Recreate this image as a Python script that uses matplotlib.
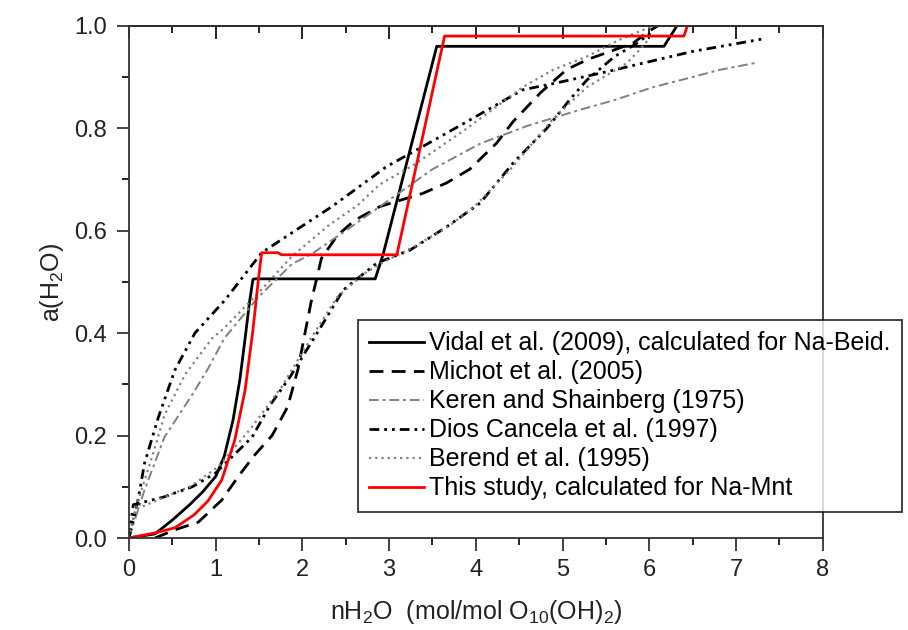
import matplotlib.pyplot as plt
from matplotlib.ticker import MultipleLocator

plt.rcParams['font.family'] = 'Liberation Sans'
plt.rcParams['mathtext.fontset'] = 'custom'
plt.rcParams['mathtext.rm'] = 'Liberation Sans'
plt.rcParams['mathtext.it'] = 'Liberation Sans:italic'

# Values: water content n vs water activity a
vidal_n = [0, 0.3, 0.5, 0.7, 0.85, 1.0, 1.1, 1.2, 1.28, 1.34, 1.39, 1.43, 1.45, 2.84, 2.93, 3.55, 6.17, 6.32]
vidal_a = [0, 0.008, 0.035, 0.065, 0.09, 0.12, 0.16, 0.23, 0.31, 0.39, 0.46, 0.505, 0.506, 0.506, 0.553, 0.96, 0.96, 1.0]

michot_n = [0.3, 0.53, 0.8, 1.07, 1.26, 1.45, 1.65, 1.83, 1.95, 2.03, 2.1, 2.22, 2.4, 2.6, 2.89, 3.39, 3.66,
            3.93, 4.24, 4.43, 4.75, 5.05, 5.3, 5.55, 5.82, 6.0, 6.1]
michot_a = [0, 0.016, 0.031, 0.074, 0.12, 0.162, 0.2, 0.256, 0.33, 0.40, 0.46, 0.546, 0.59, 0.62, 0.647, 0.673,
            0.693, 0.72, 0.771, 0.813, 0.87, 0.915, 0.935, 0.95, 0.967, 0.99, 1.0]

keren_n = [0, 0.18, 0.41, 0.73, 0.91, 1.1, 1.49, 1.88, 2.11, 2.5, 3.0, 3.5, 4.05, 4.6, 5.2, 5.6, 6.04, 6.5, 6.81, 7.24]
keren_a = [0, 0.094, 0.197, 0.28, 0.33, 0.39, 0.47, 0.535, 0.555, 0.6, 0.66, 0.72, 0.77, 0.805, 0.836, 0.855,
           0.88, 0.9, 0.914, 0.928]

dios_up_n = [0, 0.1, 0.18, 0.34, 0.53, 0.76, 1.11, 1.53, 1.88, 2.34, 2.97, 3.5, 3.93, 4.54, 4.97, 5.5, 6.0, 6.5, 7.33]
dios_up_a = [0, 0.07, 0.146, 0.236, 0.328, 0.40, 0.465, 0.557, 0.596, 0.647, 0.725, 0.775, 0.816, 0.875, 0.89,
             0.91, 0.93, 0.95, 0.975]
dios_lo_n = [0, 0.05, 0.4, 0.73, 1.0, 1.42, 1.63, 1.86, 2.17, 2.47, 2.86, 3.24, 3.66, 4.05, 4.43, 4.82, 5.08,
             5.28, 5.6, 5.85, 6.05]
dios_lo_a = [0, 0.065, 0.08, 0.10, 0.127, 0.197, 0.26, 0.315, 0.40, 0.484, 0.537, 0.562, 0.607, 0.654, 0.732,
             0.80, 0.855, 0.894, 0.94, 0.965, 0.99]

berend_up_n = [0, 0.1, 0.27, 0.41, 0.65, 0.96, 1.1, 1.49, 1.88, 2.3, 2.64, 2.89, 3.3, 3.9, 4.54, 4.89, 5.28,
               5.66, 5.9, 6.05]
berend_up_a = [0, 0.07, 0.16, 0.24, 0.32, 0.39, 0.41, 0.478, 0.55, 0.61, 0.65, 0.69, 0.73, 0.80, 0.88, 0.914,
               0.94, 0.973, 0.99, 1.0]
berend_lo_n = [0, 0.07, 0.41, 0.7, 1.03, 1.42, 1.76, 2.11, 2.4, 2.7, 2.95, 3.3, 3.7, 4.0, 4.4, 4.9, 5.28, 5.74,
               5.9, 6.0]
berend_lo_a = [0, 0.055, 0.08, 0.1, 0.139, 0.217, 0.295, 0.393, 0.47, 0.515, 0.54, 0.57, 0.61, 0.65, 0.72, 0.82,
               0.88, 0.927, 0.955, 0.975]

study_n = [0, 0.3, 0.53, 0.75, 0.91, 1.0, 1.07, 1.22, 1.34, 1.43, 1.49, 1.53, 1.72, 1.76, 3.09, 3.64, 6.40, 6.44]
study_a = [0, 0.01, 0.02, 0.045, 0.072, 0.095, 0.113, 0.191, 0.289, 0.406, 0.5, 0.557, 0.557, 0.553, 0.553,
           0.98, 0.98, 1.0]

labels = ['Vidal et al. (2009), calculated for Na-Beid.', 'Michot et al. (2005)',
          'Keren and Shainberg (1975)', 'Dios Cancela et al. (1997)', 'Berend et al. (1995)',
          'This study, calculated for Na-Mnt']

fig = plt.figure(figsize=(9.08, 6.3), dpi=100)
ax = fig.add_axes([0.142, 0.146, 0.764, 0.813])

gray = '#808080'
ax.plot(vidal_n, vidal_a, color='black', lw=2, label=labels[0])
ax.plot(michot_n, michot_a, color='black', lw=2, ls=(0, (5, 3)), label=labels[1])
ax.plot(keren_n, keren_a, color=gray, lw=1.4, ls=(0, (5, 2, 1.5, 2)), label=labels[2])
ax.plot(dios_up_n, dios_up_a, color='black', lw=2, ls=(0, (3.5, 1.8, 1, 1.8, 1, 1.8)), label=labels[3])
ax.plot(dios_lo_n, dios_lo_a, color='black', lw=2, ls=(0, (3.5, 1.8, 1, 1.8, 1, 1.8)))
ax.plot(berend_up_n, berend_up_a, color=gray, lw=1.6, ls=(0, (1, 1.8)), label=labels[4])
ax.plot(berend_lo_n, berend_lo_a, color=gray, lw=1.6, ls=(0, (1, 1.8)))
ax.plot(study_n, study_a, color='red', lw=2, label=labels[5])

ax.set_xlim(0, 8)
ax.set_ylim(0, 1.0)
ax.xaxis.set_major_locator(MultipleLocator(1))
ax.xaxis.set_minor_locator(MultipleLocator(0.5))
ax.yaxis.set_major_locator(MultipleLocator(0.2))
ax.yaxis.set_minor_locator(MultipleLocator(0.1))
ax.yaxis.set_major_formatter(plt.FormatStrFormatter('%.1f'))
ax.tick_params(which='major', direction='out', length=9, width=1.2, labelsize=17, colors='#222222')
ax.tick_params(which='minor', direction='out', length=5, width=1.2)
ax.tick_params(axis='x', pad=6)
ax.tick_params(axis='y', pad=7)
for s in ax.spines.values():
    s.set_linewidth(1.3)
    s.set_color('#333333')

top = ax.secondary_xaxis('top')
top.xaxis.set_major_locator(MultipleLocator(1))
top.xaxis.set_minor_locator(MultipleLocator(0.5))
top.tick_params(which='major', direction='in', length=9, width=1.2, labeltop=False)
top.tick_params(which='minor', direction='in', length=5, width=1.2)
top.spines['top'].set_linewidth(1.3)

ax.set_xlabel(r'nH$_2$O  (mol/mol O$_{10}$(OH)$_2$)', fontsize=18, labelpad=12, color='#222222')
ax.set_ylabel(r'a(H$_2$O)', fontsize=18, labelpad=6, color='#222222')

leg = ax.legend(loc='upper left', bbox_to_anchor=(358 / 908, 1 - 320 / 630), bbox_transform=fig.transFigure,
                borderaxespad=0, fontsize=18, frameon=True, fancybox=False, edgecolor='black',
                handlelength=2.2, handletextpad=0.2, labelspacing=0.2, borderpad=0.45)
leg.get_frame().set_linewidth(1.3)

fig.savefig('out.png', dpi=100)
